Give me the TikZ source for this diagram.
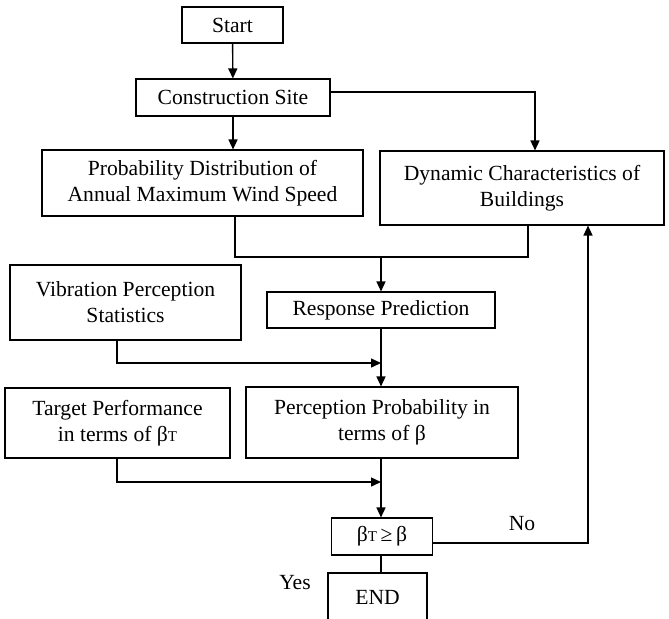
\documentclass[tikz,border=0pt]{standalone}
\usepackage{fontspec}
\setmainfont{Liberation Serif}
\usetikzlibrary{arrows.meta,positioning}

\newcommand{\betaT}{β{\fontsize{7.5}{9}\selectfont T}}

\begin{document}
\begin{tikzpicture}[x=0.5pt,y=-0.5pt,font=\fontsize{10.8}{13}\selectfont,line width=0.7pt,
    box/.style={draw,line width=0.55pt,align=center,inner sep=0pt},
    >={Triangle[length=5pt,width=4.5pt]}]
            \clip (0,0) rectangle (669,618);
            \node[box, minimum width=50.5pt, minimum height=18pt] (start) at (232.5,25) {Start};
            \node[box, minimum width=97pt, minimum height=18.5pt] (site) at (233,97.5) {Construction Site};
            \node[box, minimum width=160.5pt, minimum height=33pt] (prob) at (202.5,183) {Probability Distribution of\\Annual Maximum Wind Speed};
            \node[box, minimum width=142pt, minimum height=37pt] (dyn) at (522,188) {Dynamic Characteristics of\\Buildings};
            \node[box, minimum width=115.5pt, minimum height=37.5pt] (vib) at (125.5,302.5) {Vibration Perception\\Statistics};
            \node[box, minimum width=114pt, minimum height=18pt] (resp) at (381,310) {Response Prediction};
            \node[box, minimum width=112.5pt, minimum height=35pt] (target) at (117.5,423) {Target Performance\\in terms of \betaT};
            \node[box, minimum width=136pt, minimum height=35.5pt] (perc) at (382,422.5) {Perception Probability in\\terms of β};
            \node[box, minimum width=50.5pt, minimum height=18.5pt] (dec) at (382,536.5) {\betaT\,≥\,β};
            \node[box, minimum width=49.5pt, minimum height=24pt] (end) at (377.5,597) {END};
            \node (no) at (522,524) {No};
            \node (yes) at (295,583) {Yes};

            % corners of the connectors
            \coordinate (c1) at (535,92);
            \coordinate (j1) at (235,257);
            \coordinate (j2) at (528,257);
            \coordinate (j3) at (117,363);
            \coordinate (j4) at (117,482);
            \coordinate (fb) at (588,543);
            \coordinate (spine) at (381,0);

            \draw[->] (start) -- (site);
            \draw[->] (site.south) -- (site.south |- prob.north);
            \draw[->] (site.east |- c1) -| (dyn.north -| c1);
            \draw (prob.south -| j1) -- (j1) -- (j2) -- (dyn.south -| j2);
            \draw[->] (spine |- j1) -- (spine |- resp.north);
            \draw[->] (spine |- resp.south) -- (spine |- perc.north);
            \draw[->] (vib.south -| j3) |- (spine |- j3);
            \draw[->] (target.south -| j4) |- (spine |- j4);
            \draw[->] (spine |- perc.south) -- (spine |- dec.north);
            \draw[->] (dec.east |- fb) -| (dyn.south -| fb);
            \draw (spine |- dec.south) -- (spine |- end.north);
\end{tikzpicture}
\end{document}
